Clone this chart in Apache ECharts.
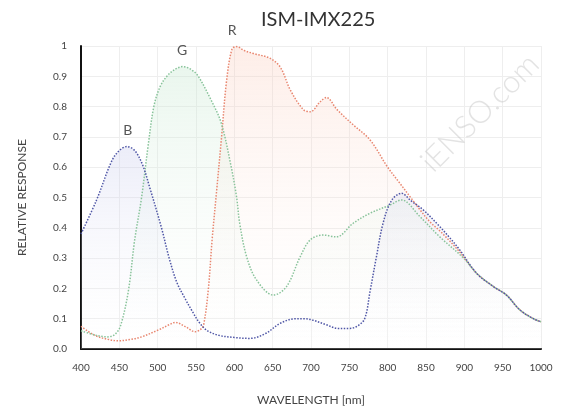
<!DOCTYPE html>
<html>
<head>
<meta charset="utf-8">
<script src="https://cdn.jsdelivr.net/npm/echarts@6/dist/echarts.min.js"></script>
<style>html,body{margin:0;padding:0;background:#fff}#c{width:563px;height:409px}</style>
</head>
<body>
<div id="c"></div>
<script>
const xTicks = [400,450,500,550,600,650,700,750,800,850,900,950,1000];
const yTicks = [0,0.1,0.2,0.3,0.4,0.5,0.6,0.7,0.8,0.9,1];

const blueX = [400,420,440,450,460,470,480,490,505,515,525,535,545,555,565,580,600,620,640,660,680,690,700,720,735,750,760,770,777,785,794,805,818,830,846,868,880,894,916,938,955,972,990,1000];
const blueY = [0.38,0.49,0.62,0.655,0.668,0.655,0.61,0.53,0.40,0.3,0.22,0.17,0.125,0.085,0.06,0.045,0.038,0.035,0.05,0.085,0.1,0.1,0.097,0.08,0.068,0.068,0.075,0.1,0.19,0.3,0.415,0.49,0.514,0.49,0.46,0.404,0.37,0.327,0.25,0.206,0.178,0.13,0.1,0.09];

const greenX = [400,420,435,445,452,462,470,479,488,495,503,512,522,533,545,553,570,583,596,603,607,616,629,651,668,686,699,716,733,755,777,803,818,842,868,899,916,938,955,972,990,1000];
const greenY = [0.06,0.045,0.04,0.05,0.08,0.195,0.36,0.5,0.68,0.8,0.865,0.9,0.922,0.932,0.92,0.9,0.82,0.745,0.6,0.5,0.415,0.305,0.228,0.178,0.206,0.305,0.36,0.376,0.37,0.415,0.448,0.475,0.492,0.437,0.37,0.3,0.25,0.206,0.178,0.13,0.1,0.09];

const redX = [400,418,435,449,465,479,501,515,523,536,549,556,560,566,571,577,583,590,597,603,613,625,646,660,673,690,699,712,720,734,755,777,800,815,830,842,855,870,894,916,938,955,972,990,1000];
const redY = [0.075,0.045,0.032,0.027,0.032,0.04,0.063,0.08,0.088,0.074,0.057,0.065,0.08,0.195,0.36,0.525,0.69,0.888,0.99,0.998,0.985,0.975,0.96,0.93,0.855,0.79,0.783,0.816,0.83,0.79,0.74,0.69,0.6,0.55,0.5,0.46,0.42,0.385,0.32,0.25,0.206,0.178,0.13,0.1,0.09];

const labels = [
  {name:'R', x:597, y:0.998},
  {name:'G', x:532, y:0.932},
  {name:'B', x:461, y:0.668}
];

function pairs(xs, ys){ return xs.map((x,i)=>[x, ys[i]]); }
function grad(c){
  return new echarts.graphic.LinearGradient(0,0,0,1,[
    {offset:0, color:c},
    {offset:1, color:'rgba(255,255,255,0.1)'}
  ]);
}
const font = 'Lato, "Open Sans", sans-serif';
function mk(l){
  return {
    symbol:'circle', symbolSize:0,
    label:{show:true, formatter:l.name, offset:[0,-16], color:'#555', fontSize:14, fontFamily:font},
    data:[{coord:[l.x,l.y]}]
  };
}
function series(name, xs, ys, line, area, lab){
  return {
    name, type:'line', data:pairs(xs,ys), smooth:0.35, showSymbol:false,
    lineStyle:{color:line, width:1.5, type:'dotted'},
    areaStyle:{color:grad(area)},
    markPoint: mk(lab),
    z:2
  };
}

const chart = echarts.init(document.getElementById('c'));
chart.setOption({
  animation:false,
  title:{text:'ISM-IMX225', left:256, top:5, textStyle:{fontSize:20, fontWeight:'normal', color:'#333', fontFamily:font}},
  grid:{left:81, right:22, top:46, bottom:60, containLabel:false, outerBoundsMode:'none'},
  xAxis:{
    type:'value', min:400, max:1000, interval:50,
    name:'WAVELENGTH [nm]', nameLocation:'middle', nameGap:45,
    nameTextStyle:{fontSize:12, color:'#444', fontFamily:font},
    axisLine:{show:true, lineStyle:{color:'#111', width:2}},
    axisTick:{show:false},
    axisLabel:{fontSize:10, color:'#444', margin:14, fontFamily:font, formatter:v=>String(v)},
    splitLine:{show:true, lineStyle:{color:'#eee'}}
  },
  yAxis:{
    type:'value', min:0, max:1, interval:0.1,
    name:'RELATIVE RESPONSE', nameLocation:'middle', nameGap:53,
    nameTextStyle:{fontSize:12, color:'#444', fontFamily:font},
    axisLine:{show:true, lineStyle:{color:'#111', width:2}},
    axisTick:{show:false},
    axisLabel:{fontSize:10, color:'#444', margin:14, fontFamily:font,
      formatter:v=> v===0 ? '0.0' : (v===1 ? '1' : v.toFixed(1))},
    splitLine:{show:true, lineStyle:{color:'#eee'}}
  },
  graphic:[{
    type:'text', x:480, y:113, rotation:Math.PI/4, z:10,
    style:{text:'iENSO.com', fontSize:31, fontFamily:font, fontWeight:300, fill:'rgba(200,200,200,0.5)', align:'center', verticalAlign:'middle'}
  }],
  series:[
    series('R', redX, redY, '#e8866f', 'rgba(250,200,182,0.45)', labels[0]),
    series('G', greenX, greenY, '#88c39a', 'rgba(195,230,205,0.5)', labels[1]),
    series('B', blueX, blueY, '#4f56a6', 'rgba(195,198,235,0.45)', labels[2])
  ]
});
</script>
</body>
</html>
